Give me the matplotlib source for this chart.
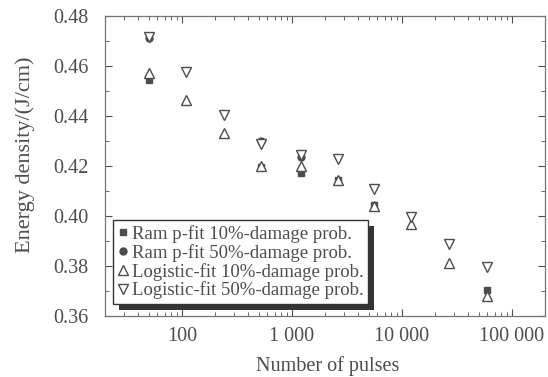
import matplotlib
matplotlib.use('Agg')
import matplotlib.pyplot as plt
from matplotlib.patches import Rectangle
from matplotlib.ticker import FixedLocator, LogLocator, NullFormatter, MultipleLocator

plt.rcParams['font.family'] = ['Liberation Serif', 'DejaVu Serif']

pulses = [50, 110, 240, 525, 1200, 2600, 5600, 12000, 27000, 60000]

# logistic fit values at every pulse count
logistic_10 = [0.4573, 0.4464, 0.4333, 0.4201, 0.4200, 0.4144, 0.4041, 0.3968, 0.3813, 0.3680]
logistic_50 = [0.4717, 0.4577, 0.4404, 0.4288, 0.4244, 0.4227, 0.4107, 0.3997, 0.3887, 0.3797]

# Ram p-fit points (only a few are visible)
ram_10_pulses = [50, 525, 1200, 2600, 5600, 60000]
ram_10 = [0.4545, 0.4195, 0.4172, 0.4143, 0.4042, 0.3705]
ram_50_pulses = [50, 525, 1200]
ram_50 = [0.4712, 0.4301, 0.4236]

gray = '0.3'

fig = plt.figure(figsize=(5.48, 3.77), dpi=100)
ax = fig.add_axes([0.1916, 0.1618, 0.8029, 0.7958])

ax.plot(ram_10_pulses, ram_10, 's', color='0.3', markersize=5, linestyle='none',
        label='Ram p-fit 10%-damage prob.')
ax.plot(ram_50_pulses, ram_50, 'o', color='0.3', markersize=5, linestyle='none',
        label='Ram p-fit 50%-damage prob.')
ax.plot(pulses, logistic_10, '^', mfc='white', mec='0.3', mew=1.0, markersize=7,
        linestyle='none', label='Logistic-fit 10%-damage prob.')
ax.plot(pulses, logistic_50, 'v', mfc='white', mec='0.3', mew=1.0, markersize=7,
        linestyle='none', label='Logistic-fit 50%-damage prob.')

ax.set_xscale('log')
ax.set_xlim(20, 200000)
ax.set_ylim(0.36, 0.48)

ax.xaxis.set_major_locator(FixedLocator([100, 1000, 10000, 100000]))
ax.set_xticklabels(['100', '1 000', '10 000', '100 000'])
ax.xaxis.set_minor_locator(LogLocator(base=10, subs=range(2, 10), numticks=20))
ax.xaxis.set_minor_formatter(NullFormatter())
ax.yaxis.set_major_locator(MultipleLocator(0.02))
ax.yaxis.set_minor_locator(MultipleLocator(0.01))
ax.yaxis.set_major_formatter(plt.FormatStrFormatter('%.2f'))

ax.tick_params(which='both', direction='in', top=True, right=True, colors=gray,
               labelcolor=gray, labelsize=14.5)
ax.tick_params(which='major', length=5, width=0.8)
ax.tick_params(which='minor', length=3, width=0.6)
ax.tick_params(axis='x', pad=8)
ax.tick_params(axis='y', pad=12)
for sp in ax.spines.values():
    sp.set_color('0.45')
    sp.set_linewidth(0.9)

ax.set_xlabel('Number of pulses', fontsize=14.5, color=gray)
ax.set_ylabel('Energy density/(J/cm)', fontsize=16, color=gray)
ax.xaxis.set_label_coords(0.507, -0.135)
ax.yaxis.set_label_coords(-0.16, 0.537)

leg = ax.legend(loc='lower left', bbox_to_anchor=(0.018, 0.04), fontsize=13.5,
                frameon=True, fancybox=False, shadow=False, framealpha=1,
                borderpad=0.25, labelspacing=0.05, handlelength=0.6,
                handletextpad=0.15, borderaxespad=0.0)
leg.get_frame().set_edgecolor('0.2')
leg.get_frame().set_facecolor('white')
leg.get_frame().set_linewidth(1.0)
leg.set_zorder(6)
for t in leg.get_texts():
    t.set_color(gray)

# thick dark drop shadow right and below the legend box
fig.canvas.draw()
bb = leg.get_frame().get_window_extent()
shadow = Rectangle((bb.x0 + 6, bb.y0 - 6), bb.width, bb.height, transform=None,
                   facecolor='0.2', edgecolor='none', zorder=5.5)
ax.add_artist(shadow)

fig.savefig('out.png', dpi=100)
